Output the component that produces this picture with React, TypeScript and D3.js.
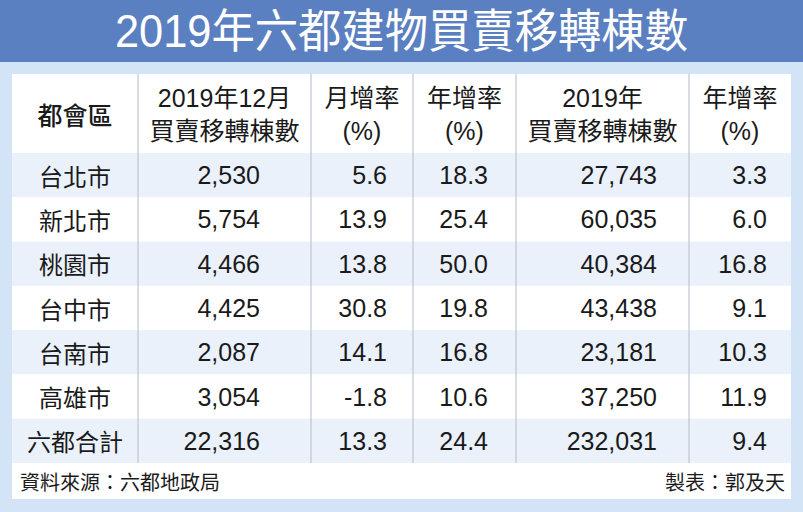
import React from "react";
import * as d3 from "d3";

const TITLE = "2019年六都建物買賣移轉棟數";
const headerLines: string[][] = [
  ["都會區"],
  ["2019年12月", "買賣移轉棟數"],
  ["月增率", "(%)"],
  ["年增率", "(%)"],
  ["2019年", "買賣移轉棟數"],
  ["年增率", "(%)"],
];
const cities = ["台北市", "新北市", "桃園市", "台中市", "台南市", "高雄市", "六都合計"];
const decCount = [2530, 5754, 4466, 4425, 2087, 3054, 22316];
const decMoM = [5.6, 13.9, 13.8, 30.8, 14.1, -1.8, 13.3];
const decYoY = [18.3, 25.4, 50.0, 19.8, 16.8, 10.6, 24.4];
const yearCount = [27743, 60035, 40384, 43438, 23181, 37250, 232031];
const yearYoY = [3.3, 6.0, 16.8, 9.1, 10.3, 11.9, 9.4];
const SOURCE = "資料來源：六都地政局";
const AUTHOR = "製表：郭及天";

const W = 803;
const H = 512;
const colEdges = [12, 138, 311, 413, 516, 689, 791];
const rightPad = [0, 51, 26, 28, 32, 24];
const headerTop = 74;
const headerBottom = 153;
const rowsBottom = 463;
const panelBottom = 499;

const FONT = "'Liberation Sans', Arial, 'Noto Sans CJK TC', sans-serif";
const CJK = "'Noto Sans CJK TC', 'Liberation Sans', sans-serif";

const loc = d3.formatLocale({
  decimal: ".",
  thousands: ",",
  grouping: [3],
  currency: ["", ""],
  minus: "-",
});
const fmtInt = loc.format(",");
const fmtPct = loc.format(".1f");

export default function App() {
  const y = d3
    .scaleBand<number>()
    .domain(d3.range(cities.length))
    .range([headerBottom, rowsBottom]);

  const columns: ((i: number) => string)[] = [
    (i) => cities[i],
    (i) => fmtInt(decCount[i]),
    (i) => fmtPct(decMoM[i]),
    (i) => fmtPct(decYoY[i]),
    (i) => fmtInt(yearCount[i]),
    (i) => fmtPct(yearYoY[i]),
  ];

  return (
    <svg
      width={W}
      height={H}
      style={{ position: "absolute", left: 0, top: 0, display: "block" }}
    >
      <rect x={0} y={0} width={W} height={H} fill="#d3e4f7" />
      <rect x={0} y={0} width={W} height={62} fill="#5b80c1" />
      <text
        x={W / 2}
        y={31}
        textAnchor="middle"
        dominantBaseline="central"
        fill="#ffffff"
        fontFamily={FONT}
        fontSize={46}
        textLength={573}
        lengthAdjust="spacingAndGlyphs"
      >
        {TITLE}
      </text>

      <rect
        x={colEdges[0]}
        y={headerTop}
        width={colEdges[6] - colEdges[0]}
        height={panelBottom - headerTop}
        fill="#ffffff"
      />
      {cities.map((c, i) => (
        <rect
          key={c}
          x={colEdges[0]}
          y={y(i)!}
          width={colEdges[6] - colEdges[0]}
          height={y.bandwidth()}
          fill={i % 2 === 0 ? "#eaf1fa" : "#ffffff"}
        />
      ))}
      {colEdges.slice(1, 6).map((x) => (
        <line
          key={x}
          x1={x}
          x2={x}
          y1={headerTop}
          y2={rowsBottom}
          stroke="#b4bcc8"
          strokeWidth={1}
        />
      ))}

      {headerLines.map((lines, ci) => {
        const cx = (colEdges[ci] + colEdges[ci + 1]) / 2;
        const mid = (headerTop + headerBottom) / 2;
        return lines.map((t, li) => (
          <text
            key={ci + "-" + li}
            x={cx}
            y={lines.length === 1 ? mid : mid + (li === 0 ? -16 : 17)}
            textAnchor="middle"
            dominantBaseline="central"
            fill="#1a1a1a"
            fontFamily={ci === 0 ? CJK : FONT}
            fontSize={25}
            fontWeight={ci === 0 ? 500 : 400}
          >
            {t}
          </text>
        ));
      })}

      {cities.map((c, i) =>
        columns.map((f, ci) => {
          const cy = y(i)! + y.bandwidth() / 2;
          const isLabel = ci === 0;
          const x = isLabel
            ? (colEdges[0] + colEdges[1]) / 2
            : colEdges[ci + 1] - rightPad[ci];
          return (
            <text
              key={c + ci}
              x={x}
              y={cy}
              textAnchor={isLabel ? "middle" : "end"}
              dominantBaseline="central"
              fill="#1a1a1a"
              fontFamily={isLabel ? CJK : FONT}
              fontSize={isLabel ? 24 : 25}
            >
              {f(i)}
            </text>
          );
        })
      )}

      <text
        x={20}
        y={(rowsBottom + panelBottom) / 2}
        dominantBaseline="central"
        fill="#1a1a1a"
        fontFamily={CJK}
        fontSize={20}
      >
        {SOURCE}
      </text>
      <text
        x={785}
        y={(rowsBottom + panelBottom) / 2}
        textAnchor="end"
        dominantBaseline="central"
        fill="#1a1a1a"
        fontFamily={CJK}
        fontSize={20}
      >
        {AUTHOR}
      </text>
    </svg>
  );
}
